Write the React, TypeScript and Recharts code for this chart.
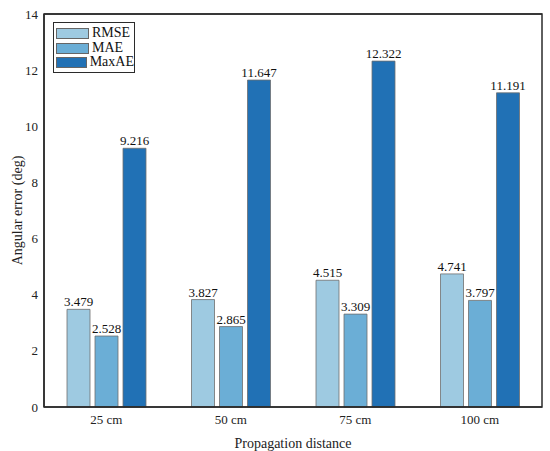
import React from 'react';
import { BarChart, Bar, XAxis, YAxis, LabelList, ReferenceLine } from 'recharts';

const categories = ['25 cm', '50 cm', '75 cm', '100 cm'];
const rmse = [3.479, 3.827, 4.515, 4.741];
const mae = [2.528, 2.865, 3.309, 3.797];
const maxae = [9.216, 11.647, 12.322, 11.191];
const yTicks = [0, 2, 4, 6, 8, 10, 12, 14];

const seriesInfo = [
  { key: 'RMSE', color: '#9ecae1' },
  { key: 'MAE', color: '#6baed6' },
  { key: 'MaxAE', color: '#2171b5' },
];

const data = categories.map((name, i) => ({
  name,
  RMSE: rmse[i],
  MAE: mae[i],
  MaxAE: maxae[i],
}));

const FONT = '"Liberation Serif", "Times New Roman", serif';
const AXIS = '#2b2b2b';

const W = 550;
const H = 451;
const M = { top: 14, right: 8, bottom: 0, left: 0 };
const Y_AXIS_W = 44;
const X_AXIS_H = 44;

const LegendBox = () => (
  <div
    style={{
      position: 'absolute',
      left: 53,
      top: 22,
      border: `1.5px solid ${AXIS}`,
      background: '#fff',
      width: 78,
      padding: '3px 0 2px 2px',
      fontFamily: FONT,
      fontSize: 14,
      lineHeight: '14.7px',
      color: '#111',
      boxSizing: 'content-box',
      zIndex: 3,
    }}
  >
    {seriesInfo.map((s) => (
      <div key={s.key} style={{ display: 'flex', alignItems: 'center', height: 14.7 }}>
        <span
          style={{
            display: 'inline-block',
            width: 31,
            height: 9,
            background: s.color,
            border: '1px solid #666',
            marginRight: 3,
          }}
        />
        <span>{s.key}</span>
      </div>
    ))}
  </div>
);

const Frame = () => (
  <svg
    width={W}
    height={H}
    style={{ position: 'absolute', left: 0, top: 0, pointerEvents: 'none', zIndex: 2 }}
  >
    <rect
      x={M.left + Y_AXIS_W}
      y={M.top}
      width={W - M.left - M.right - Y_AXIS_W}
      height={H - M.top - M.bottom - X_AXIS_H}
      fill="none"
      stroke={AXIS}
      strokeWidth={1.5}
    />
  </svg>
);

export default function App() {
  return (
    <div style={{ position: 'absolute', left: 0, top: 0, width: W, height: H, background: '#fff' }}>
      <BarChart
        width={W}
        height={H}
        data={data}
        margin={M}
        barSize={23}
        barGap={5}
        style={{ fontFamily: FONT }}
      >
        <XAxis
          dataKey="name"
          height={X_AXIS_H}
          tickLine={false}
          axisLine={{ stroke: AXIS, strokeWidth: 1.5 }}
          tick={{ fill: '#222', fontSize: 13, fontFamily: FONT }}
          label={{
            value: 'Propagation distance',
            position: 'insideBottom',
            offset: 3,
            fill: '#222',
            fontSize: 14,
            fontFamily: FONT,
          }}
        />
        <YAxis
          width={Y_AXIS_W}
          domain={[0, 14]}
          ticks={yTicks}
          tickLine={false}
          tickSize={4}
          tickMargin={2}
          axisLine={{ stroke: AXIS, strokeWidth: 1.5 }}
          tick={{ fill: '#222', fontSize: 13, fontFamily: FONT }}
          label={{
            value: 'Angular error (deg)',
            angle: -90,
            position: 'center',
            dx: -5,
            fill: '#222',
            fontSize: 14,
            fontFamily: FONT,
          }}
        />
        <ReferenceLine y={14} stroke={AXIS} strokeWidth={1.5} />
        {seriesInfo.map((s) => (
          <Bar
            key={s.key}
            dataKey={s.key}
            fill={s.color}
            stroke="#6e6e6e"
            strokeWidth={0.8}
            isAnimationActive={false}
          >
            <LabelList
              dataKey={s.key}
              position="top"
              offset={3}
              formatter={(v: number) => v.toFixed(3)}
              style={{ fill: '#111', fontSize: 13, fontFamily: FONT }}
            />
          </Bar>
        ))}
      </BarChart>
      <Frame />
      <LegendBox />
    </div>
  );
}
